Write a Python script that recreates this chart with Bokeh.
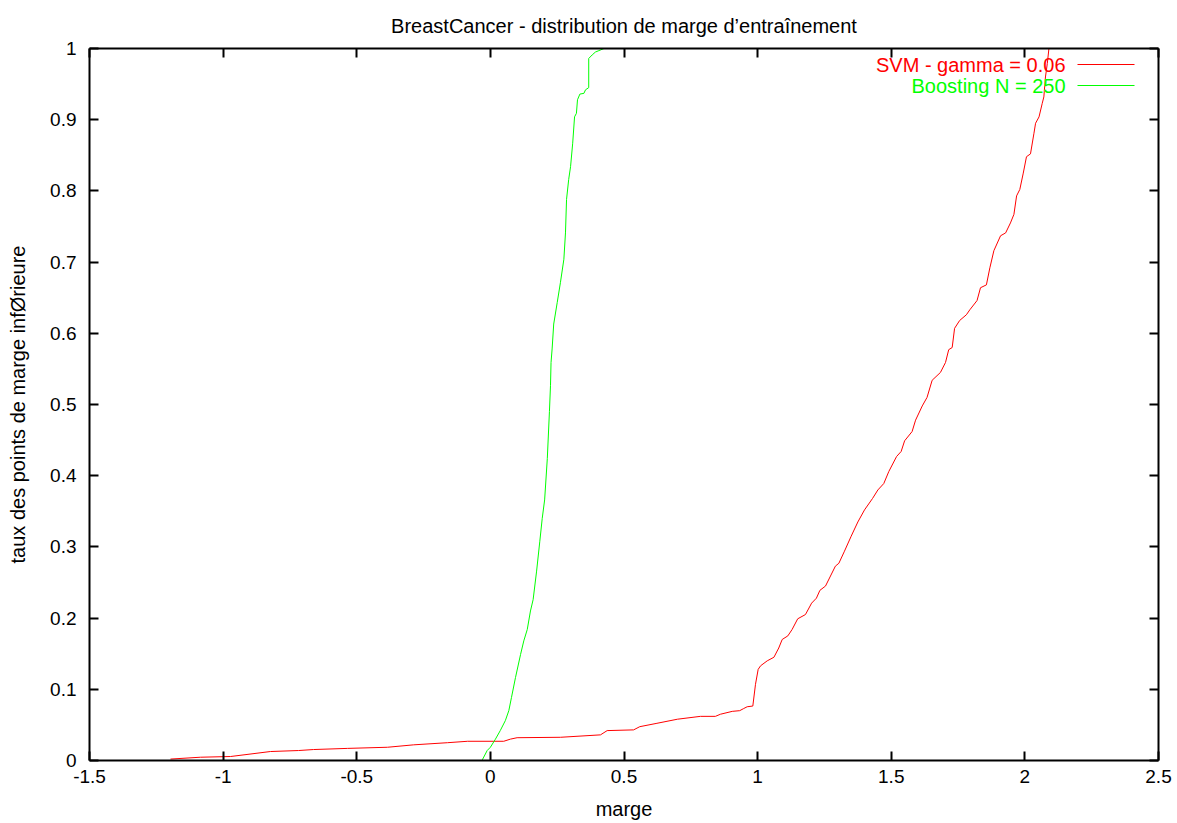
from bokeh.plotting import figure
from bokeh.embed import file_html
from bokeh.resources import INLINE
from bokeh.models import (FixedTicker, LinearAxis, Label, BoxAnnotation, Range1d, Title)

# ---------------- data ----------------
svm_label = "SVM - gamma = 0.06"
svm_x = [-1.197, -1.085, -1.085, -0.972, -0.823, -0.718, -0.662, -0.535, -0.385, -0.287,
         -0.16, -0.085, 0.05, 0.075, 0.1, 0.262, 0.412, 0.437, 0.536, 0.559, 0.62, 0.70,
         0.786, 0.842, 0.861, 0.905, 0.933, 0.948, 0.961, 0.982, 0.992, 1.002, 1.011,
         1.036, 1.061, 1.079, 1.092, 1.113, 1.129, 1.15, 1.179, 1.202, 1.22, 1.233, 1.254,
         1.291, 1.304, 1.325, 1.35, 1.375, 1.40, 1.43, 1.45, 1.472, 1.491, 1.52, 1.537,
         1.55, 1.578, 1.591, 1.616, 1.634, 1.653, 1.684, 1.703, 1.715, 1.728, 1.737,
         1.756, 1.781, 1.794, 1.821, 1.834, 1.856, 1.869, 1.884, 1.909, 1.928, 1.946,
         1.959, 1.969, 1.981, 1.994, 2.006, 2.021, 2.034, 2.04, 2.053, 2.065, 2.071,
         2.077, 2.084, 2.09]
svm_y = [0.002, 0.0046, 0.0046, 0.0056, 0.0126, 0.014, 0.0154, 0.017, 0.0186, 0.022,
         0.025, 0.027, 0.027, 0.030, 0.032, 0.0326, 0.036, 0.042, 0.043, 0.0475, 0.052,
         0.058, 0.062, 0.062, 0.065, 0.069, 0.07, 0.073, 0.0755, 0.0765, 0.107, 0.128,
         0.133, 0.14, 0.145, 0.158, 0.17, 0.175, 0.184, 0.199, 0.205, 0.221, 0.228, 0.239,
         0.245, 0.273, 0.277, 0.294, 0.315, 0.335, 0.352, 0.368, 0.38, 0.389, 0.406,
         0.427, 0.434, 0.449, 0.462, 0.478, 0.498, 0.51, 0.534, 0.545, 0.559, 0.577,
         0.58, 0.607, 0.618, 0.626, 0.633, 0.646, 0.664, 0.668, 0.692, 0.716, 0.737,
         0.741, 0.755, 0.767, 0.793, 0.802, 0.825, 0.848, 0.852, 0.881, 0.895, 0.904,
         0.923, 0.932, 0.96, 0.979, 1.0]

boost_label = "Boosting N = 250"
boost_x = [-0.03, -0.012, 0.0, 0.019, 0.037, 0.056, 0.069, 0.079, 0.094, 0.113, 0.125,
           0.138, 0.15, 0.16, 0.173, 0.185, 0.194, 0.203, 0.213, 0.221, 0.225, 0.227,
           0.231, 0.237, 0.25, 0.262, 0.275, 0.281, 0.285, 0.293, 0.3, 0.308, 0.315,
           0.322, 0.326, 0.335, 0.35, 0.356, 0.368, 0.368, 0.381, 0.393, 0.406, 0.425]
boost_y = [0.001, 0.014, 0.0186, 0.030, 0.042, 0.056, 0.070, 0.0886, 0.1165, 0.149,
           0.168, 0.184, 0.21, 0.226, 0.266, 0.308, 0.34, 0.366, 0.424, 0.49, 0.527,
           0.559, 0.578, 0.613, 0.643, 0.671, 0.704, 0.741, 0.788, 0.816, 0.834, 0.867,
           0.904, 0.909, 0.928, 0.936, 0.937, 0.942, 0.945, 0.986, 0.991, 0.995, 0.997,
           1.0]

x_ticks = [-1.5, -1, -0.5, 0, 0.5, 1, 1.5, 2, 2.5]
x_tick_labels = ["-1.5", "-1", "-0.5", "0", "0.5", "1", "1.5", "2", "2.5"]
y_ticks = [0, 0.1, 0.2, 0.3, 0.4, 0.5, 0.6, 0.7, 0.8, 0.9, 1]
y_tick_labels = ["0", "0.1", "0.2", "0.3", "0.4", "0.5", "0.6", "0.7", "0.8", "0.9", "1"]

title_text = "BreastCancer - distribution de marge d\u2019entra\u00eenement"
x_label = "marge"
y_label = "taux des points de marge inf\u00d8rieure"

FONT = "Liberation Sans"
FS = "20px"
FS_TICK = "19px"

# ---------------- figure ----------------
p = figure(width=1177, height=823, output_backend="svg", toolbar_location=None,
           x_range=Range1d(-1.5, 2.5), y_range=Range1d(0, 1),
           min_border_left=89, min_border_right=19, min_border_top=45, min_border_bottom=63)
p.title = None
p.grid.visible = False
p.outline_line_color = None
p.background_fill_color = "white"
p.border_fill_color = "white"

def style_axis(ax, labels, ticks, show_labels=True):
    ax.ticker = FixedTicker(ticks=ticks)
    if show_labels:
        ax.major_label_overrides = {t: l for t, l in zip(ticks, labels)}
        ax.major_label_text_font_size = FS_TICK
    else:
        ax.major_label_overrides = {t: "" for t in ticks}
        ax.major_label_text_font_size = "1px"
    ax.axis_line_color = "black"
    ax.axis_line_width = 2
    ax.major_tick_line_color = "black"
    ax.major_tick_line_width = 2
    ax.major_tick_in = 9
    ax.major_tick_out = 0
    ax.minor_tick_line_color = None
    ax.major_label_text_font = FONT
    ax.major_label_text_color = "black"
    ax.axis_label_text_font = FONT
    ax.axis_label_text_font_size = FS
    ax.axis_label_text_font_style = "normal"
    ax.axis_label_text_color = "black"

xa = p.xaxis[0]
ya = p.yaxis[0]
style_axis(xa, x_tick_labels, x_ticks)
style_axis(ya, y_tick_labels, y_ticks)
xa.axis_label = x_label
ya.axis_label = y_label
xa.major_label_standoff = 9
xa.axis_label_standoff = 12
ya.major_label_standoff = 13
ya.axis_label_standoff = 18

top = LinearAxis()
right = LinearAxis()
style_axis(top, x_tick_labels, x_ticks, show_labels=False)
style_axis(right, y_tick_labels, y_ticks, show_labels=False)
top.major_label_standoff = 0
right.major_label_standoff = 0
p.add_layout(top, "above")
p.add_layout(right, "right")
p.add_layout(Title(text=title_text, align="center", text_font=FONT, text_font_size=FS,
                   text_font_style="normal", text_color="black", offset=0, standoff=24), "above")

p.line(svm_x, svm_y, line_color="#ff0000", line_width=1)
p.line(boost_x, boost_y, line_color="#00ff00", line_width=1)

# legend (gnuplot style: text right-aligned, sample line to the right);
# screen units here are relative to the plot frame (origin at its bottom-left)
for i, (lab, col) in enumerate([(svm_label, "#ff0000"), (boost_label, "#00ff00")]):
    ys = 696 - 21 * i
    p.add_layout(Label(x=976, y=ys, x_units="screen", y_units="screen", text=lab,
                       text_align="right", text_baseline="middle", text_font=FONT,
                       text_font_size=FS, text_color=col))
    p.add_layout(BoxAnnotation(left=988, right=1045, bottom=ys - 0.5, top=ys + 0.5,
                               left_units="screen", right_units="screen",
                               bottom_units="screen", top_units="screen",
                               fill_color=col, fill_alpha=1, line_color=None))

open("out.html", "w").write(file_html(p, INLINE))
